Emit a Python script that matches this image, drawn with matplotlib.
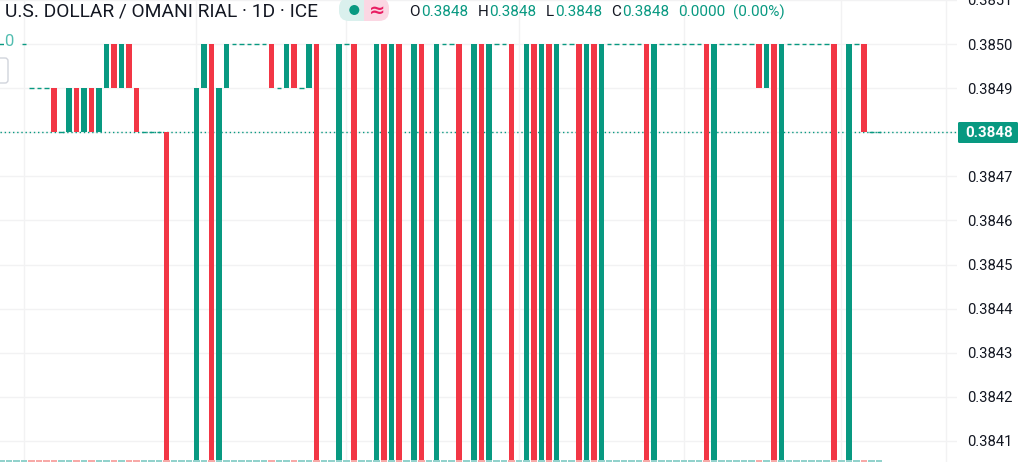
import matplotlib
matplotlib.use("Agg")
import matplotlib.pyplot as plt
from matplotlib.patches import FancyBboxPatch, Rectangle, Circle

HI = 0.3850
MID = 0.3849
CUR = 0.3848
LOW = 0.3840

# daily closes, open of each bar is the close before it
first_open = HI
closes = [
    HI, HI, HI, HI, MID, MID, MID, CUR, CUR, MID,
    CUR, MID, CUR, MID, HI, MID, HI, MID, CUR, CUR,
    CUR, CUR, LOW, LOW, LOW, LOW, MID, HI, LOW, MID,
    HI, HI, HI, HI, HI, HI, MID, MID, HI, MID,
    MID, HI, LOW, LOW, LOW, HI, HI, LOW, LOW, LOW,
    HI, LOW, HI, LOW, LOW, HI, LOW, LOW, HI, HI,
    HI, LOW, LOW, HI, LOW, HI, HI, HI, LOW, LOW,
    HI, LOW, HI, LOW, HI, HI, HI, LOW, HI, LOW,
    HI, HI, HI, HI, HI, HI, LOW, HI, HI, HI,
    HI, HI, HI, HI, LOW, HI, HI, HI, HI, HI,
    HI, MID, HI, LOW, HI, HI, HI, HI, HI, HI,
    HI, LOW, LOW, HI, HI, CUR, CUR, CUR,
]
# bars that opened away from the last close
gap_opens = {4: MID}
# flat bars whose volume is still coloured as a down day
red_volume_flats = [4, 5, 6]
price_ticks = [0.3841, 0.3842, 0.3843, 0.3844, 0.3845, 0.3846,
               0.3847, 0.3848, 0.3849, 0.3850, 0.3851]
date_grid = [3, 26, 46, 69, 91, 112, 126]
last_price = 0.3848

GREEN = "#089981"
RED = "#f23645"
GRID = "#f2f2f3"
DARK = "#131722"

plt.rcParams["font.family"] = ["Roboto", "DejaVu Sans"]
W, H = 1023, 462
fig = plt.figure(figsize=(W / 100, H / 100), dpi=100, facecolor="white")
ax = fig.add_axes([0, 0, 957 / W, 1])
ax.set_xlim(-0.2, 127.4)
ax.set_ylim(0.384052, 0.385100)
for s in ax.spines.values():
    s.set_visible(False)
ax.set_xticks(date_grid)
ax.set_yticks(price_ticks)
ax.set_yticklabels([f"{p:.4f}" for p in price_ticks], fontsize=10.6, color=DARK)
ax.yaxis.tick_right()
ax.tick_params(axis="both", length=0, pad=7.5, labelbottom=False)
ax.grid(True, color=GRID, lw=1)
ax.set_axisbelow(True)

ax.axhline(last_price, color=GREEN, lw=1, ls=(0, (1, 2)), zorder=1)

opens = [first_open] + closes[:-1]
for i, o in gap_opens.items():
    opens[i] = o
xs = list(range(len(closes)))
for i, o, c in zip(xs, opens, closes):
    if o == c:
        ax.hlines(c, i - 0.33, i + 0.33, color=GREEN, lw=1, zorder=3)
    else:
        ax.bar(i, abs(o - c), bottom=min(o, c), width=0.67,
               color=GREEN if c > o else RED, zorder=3)

# volume pane, pale bars on the bottom edge
vol = fig.add_axes([0, 0, 957 / W, 1], sharex=ax)
vol.set_ylim(0, 250)
vol.axis("off")
vol.patch.set_alpha(0)
vol_colors = ["#f7a9a7" if (c < o or i in red_volume_flats) else "#92d2cc"
              for i, o, c in zip(xs, opens, closes)]
vol.bar(xs, [1] * len(xs), width=0.9, color=vol_colors, zorder=2)

# overlay in pixels for the header, the left widget and the price tag
ov = fig.add_axes([0, 0, 1, 1])
ov.set_xlim(0, W)
ov.set_ylim(H, 0)
ov.axis("off")
ov.patch.set_alpha(0)

ov.text(5, 12, "U.S. DOLLAR / OMANI RIAL · 1D · ICE", fontsize=13.8, color=DARK,
        va="center", ha="left")

ov.add_patch(FancyBboxPatch((339, -2), 25, 23, boxstyle="round,pad=0,rounding_size=10",
                            fc="#daf0ed", ec="none"))
ov.add_patch(Rectangle((352, -2), 12, 23, fc="#daf0ed", ec="none"))
ov.add_patch(FancyBboxPatch((364, -2), 25, 23, boxstyle="round,pad=0,rounding_size=10",
                            fc="#fbd7e3", ec="none"))
ov.add_patch(Rectangle((364, -2), 12, 23, fc="#fbd7e3", ec="none"))
ov.add_patch(Circle((354.3, 10), 5, fc=GREEN, ec="none"))
ov.text(377, 10, "≈", fontsize=14, color="#e91e63", ha="center", va="center",
        family=["DejaVu Sans"], fontweight="bold")

header = [(409, "O", DARK), (421.5, "0.3848", GREEN),
          (478, "H", DARK), (489, "0.3848", GREEN),
          (546, "L", DARK), (555, "0.3848", GREEN),
          (611, "C", DARK), (622, "0.3848", GREEN),
          (678, "0.0000", GREEN), (733, "(0.00%)", GREEN)]
for x, s, col in header:
    ov.text(x, 12, s, fontsize=11, color=col, va="center", ha="left")

# left widget cut off by the crop
ov.add_patch(Rectangle((4, 34), 16, 15, fc="white", ec="none"))
ov.text(9, 41.5, "0", fontsize=12, color="#52bdb0", ha="center", va="center")
ov.add_patch(FancyBboxPatch((-8, 58), 16, 25, boxstyle="round,pad=0,rounding_size=3",
                            fc="white", ec="#d1d4dc", lw=1))

# last price tag
ov.add_patch(FancyBboxPatch((958, 122), 60, 21, boxstyle="round,pad=0,rounding_size=1.5",
                            fc=GREEN, ec="none"))
ov.text(989.5, 132.8, f"{last_price:.4f}", fontsize=10.8, color="white", fontweight="bold",
        ha="center", va="center")

fig.savefig("out.png", dpi=100, facecolor="white")
